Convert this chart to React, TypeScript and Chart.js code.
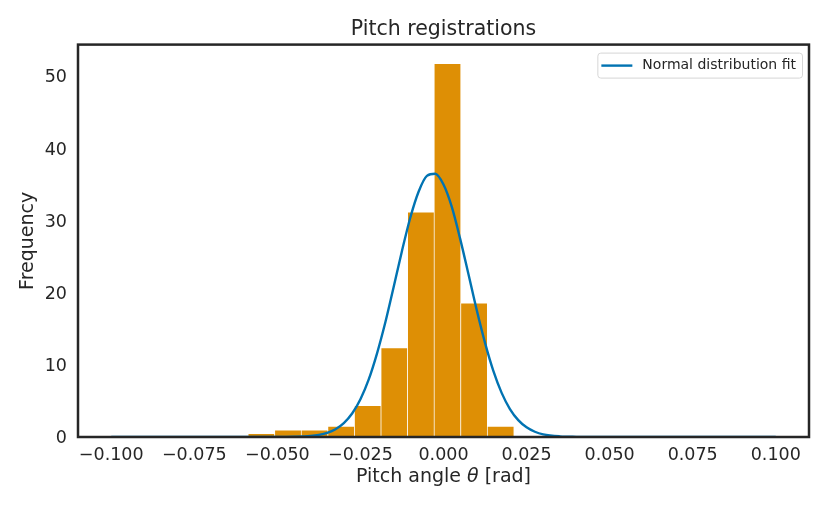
import { useEffect, useRef } from "react";
import { Chart, registerables } from "chart.js";

Chart.register(...registerables);

// histogram bins (centre of each bin, rad) and bar heights
const binCenters = [-0.0548, -0.0468, -0.0388, -0.0308, -0.0228, -0.0148, -0.0068, 0.0012, 0.0092, 0.0172];
const binFrequencies = [0.5, 1.0, 1.0, 1.5, 4.4, 12.4, 31.2, 51.8, 18.6, 1.5];

// normal distribution fit
const fitAngles = [
  -0.1, -0.05, -0.045, -0.04, -0.0375, -0.035, -0.0325, -0.03, -0.0275, -0.025,
  -0.0225, -0.02, -0.0175, -0.015, -0.0125, -0.01, -0.0075, -0.005, -0.0025, 0,
  0.0025, 0.005, 0.0075, 0.01, 0.0125, 0.015, 0.0175, 0.02, 0.0225, 0.025,
  0.0275, 0.03, 0.035, 0.04, 0.045, 0.1,
];
const fitDensity = [
  0, 0, 0.03, 0.14, 0.29, 0.57, 1.08, 1.93, 3.25, 5.23,
  7.98, 11.6, 15.9, 20.8, 25.8, 30.4, 34.0, 36.2, 36.5, 35.0,
  31.9, 27.5, 22.6, 17.6, 13.05, 9.17, 6.12, 3.88, 2.34, 1.34,
  0.73, 0.37, 0.09, 0.02, 0, 0,
];

const xRange = [-0.11, 0.11];
const yRange = [0, 54.4];
const xTickStep = 0.025;
const yTickStep = 10;

const TEXT = "#262626";
const FONT = "'DejaVu Sans', sans-serif";

const fmtAngle = (v: number) => {
  if (Math.abs(v) < 1e-9) return "0.000";
  return (v < 0 ? "\u2212" : "") + Math.abs(v).toFixed(3);
};

// dark box round the axes, like the matplotlib spines
const framePlugin = {
  id: "frame",
  afterDatasetsDraw(chart: any) {
    const { ctx, chartArea: a } = chart;
    ctx.save();
    ctx.strokeStyle = TEXT;
    ctx.lineWidth = 2.5;
    ctx.strokeRect(a.left, a.top, a.right - a.left, a.bottom - a.top);
    ctx.restore();
  },
};

// x axis label with an italic theta (mathtext style)
const xLabelPlugin = {
  id: "xLabel",
  afterDraw(chart: any) {
    const { ctx, chartArea: a } = chart;
    const parts: [string, string][] = [
      ["Pitch angle ", `19px ${FONT}`],
      ["\u03b8", `italic 19px ${FONT}`],
      [" [rad]", `19px ${FONT}`],
    ];
    ctx.save();
    let total = 0;
    for (const [t, f] of parts) {
      ctx.font = f;
      total += ctx.measureText(t).width;
    }
    let x = (a.left + a.right) / 2 - total / 2;
    const y = chart.height - 25 - 11.4;
    ctx.fillStyle = TEXT;
    ctx.textBaseline = "middle";
    ctx.textAlign = "left";
    for (const [t, f] of parts) {
      ctx.font = f;
      ctx.fillText(t, x, y);
      x += ctx.measureText(t).width;
    }
    ctx.restore();
  },
};

// legend in the upper right corner of the axes
const legendPlugin = {
  id: "cornerLegend",
  afterDraw(chart: any) {
    const { ctx, chartArea: a } = chart;
    const ds = chart.data.datasets.find((d: any) => d.type === "line");
    if (!ds) return;
    ctx.save();
    ctx.font = `14px ${FONT}`;
    const tw = ctx.measureText(ds.label).width;
    const w = 4 + 31 + 10 + tw + 6;
    const h = 25;
    const right = a.right - 7;
    const top = a.top + 8;
    const left = right - w;
    ctx.beginPath();
    ctx.roundRect(left + 0.5, top + 0.5, w, h, 3);
    ctx.fillStyle = "rgba(255,255,255,0.8)";
    ctx.fill();
    ctx.strokeStyle = "#d6d6d6";
    ctx.lineWidth = 1;
    ctx.stroke();
    const cy = top + h / 2 + 0.5;
    ctx.beginPath();
    ctx.moveTo(left + 4, cy);
    ctx.lineTo(left + 35, cy);
    ctx.strokeStyle = ds.borderColor;
    ctx.lineWidth = 2.4;
    ctx.stroke();
    ctx.fillStyle = TEXT;
    ctx.textBaseline = "middle";
    ctx.textAlign = "left";
    ctx.fillText(ds.label, left + 45, cy);
    ctx.restore();
  },
};

export default function App() {
  const canvasRef = useRef<HTMLCanvasElement>(null);

  useEffect(() => {
    const canvas = canvasRef.current;
    if (!canvas) return;

    const chart = new Chart(canvas, {
      type: "bar",
      data: {
        datasets: [
          {
            type: "line",
            label: "Normal distribution fit",
            data: fitAngles.map((x, i) => ({ x, y: fitDensity[i] })),
            borderColor: "#0173b2",
            borderWidth: 2.4,
            pointRadius: 0,
            cubicInterpolationMode: "monotone",
            fill: false,
            order: 0,
          },
          {
            type: "bar",
            label: "Pitch registrations",
            data: binCenters.map((x, i) => ({ x, y: binFrequencies[i] })),
            backgroundColor: "#de8f05",
            borderColor: "#ffffff",
            borderWidth: { top: 1, left: 0.7, right: 0.7, bottom: 0 },
            borderSkipped: false,
            barPercentage: 1,
            categoryPercentage: 1,
            order: 1,
          },
        ],
      } as any,
      options: {
        responsive: false,
        animation: false,
        layout: { padding: { left: 0, right: 21, top: 0, bottom: 0 } },
        plugins: {
          legend: { display: false },
          tooltip: { enabled: false },
          title: {
            display: true,
            fullSize: false,
            text: "Pitch registrations",
            color: TEXT,
            font: { family: FONT, size: 20.5, weight: "normal" },
            padding: { top: 17, bottom: 3 },
          },
        },
        scales: {
          x: {
            type: "linear",
            min: xRange[0],
            max: xRange[1],
            offset: false,
            grid: { display: false, drawTicks: false },
            border: { display: false },
            ticks: {
              stepSize: xTickStep,
              includeBounds: false,
              autoSkip: false,
              maxRotation: 0,
              padding: 7.5,
              color: TEXT,
              font: { family: FONT, size: 17.5 },
              callback: (v: any) => fmtAngle(Number(v)),
            },
            title: { display: false },
            afterFit(scale: any) {
              scale.height = 76;
            },
          },
          y: {
            min: yRange[0],
            max: yRange[1],
            grid: { display: false, drawTicks: false },
            border: { display: false },
            ticks: {
              stepSize: yTickStep,
              includeBounds: false,
              padding: 11,
              labelOffset: 1.5,
              color: TEXT,
              font: { family: FONT, size: 17.5 },
            },
            title: {
              display: true,
              text: "Frequency",
              color: TEXT,
              font: { family: FONT, size: 19 },
              padding: { top: 17, bottom: 0 },
            },
            afterFit(scale: any) {
              scale.width = 78;
            },
          },
        },
      } as any,
      plugins: [framePlugin, xLabelPlugin, legendPlugin],
    });

    return () => chart.destroy();
  }, []);

  return (
    <div style={{ position: "absolute", left: 0, top: 0, width: 830, height: 513, background: "#fff" }}>
      <canvas ref={canvasRef} width={830} height={513} style={{ width: 830, height: 513 }} />
    </div>
  );
}
